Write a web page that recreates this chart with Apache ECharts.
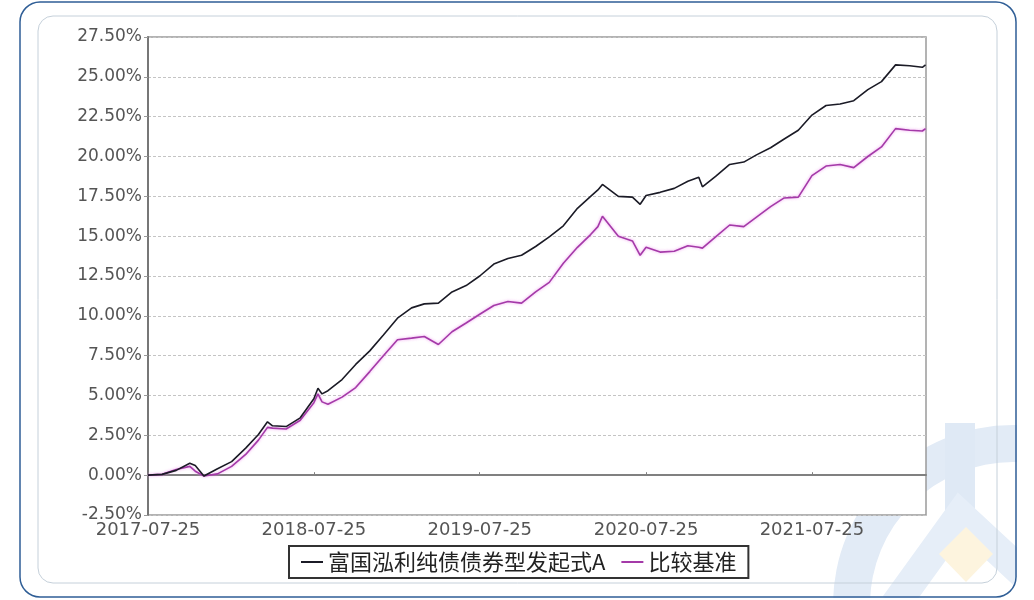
<!DOCTYPE html>
<html>
<head>
<meta charset="utf-8">
<script src="https://cdn.jsdelivr.net/npm/echarts@6/dist/echarts.min.js"></script>
<style>
html,body{margin:0;padding:0;background:#fff;}
#chart{width:1034px;height:600px;}
</style>
</head>
<body>
<div id="chart"></div>
<script>
// 日期
var dates = ['2017-07-25','2017-08-25','2017-09-25','2017-10-25','2017-11-06','2017-11-25','2017-12-25',
	'2018-01-25','2018-02-25','2018-03-25','2018-04-14','2018-04-25','2018-05-25','2018-06-25','2018-07-25',
	'2018-08-03','2018-08-12','2018-08-25','2018-09-25','2018-10-25','2018-11-25','2018-12-25',
	'2019-01-25','2019-02-25','2019-03-25','2019-04-25','2019-05-25','2019-06-25','2019-07-25',
	'2019-08-25','2019-09-25','2019-10-25','2019-11-25','2019-12-25',
	'2020-01-25','2020-02-25','2020-03-25','2020-04-10','2020-04-20','2020-05-25','2020-06-25','2020-07-12',
	'2020-07-25','2020-08-25','2020-09-25','2020-10-25','2020-11-18','2020-11-26','2020-12-25',
	'2021-01-25','2021-02-25','2021-03-25','2021-04-25','2021-05-25','2021-06-25','2021-07-25',
	'2021-08-25','2021-09-25','2021-10-25','2021-11-25','2021-12-25',
	'2022-01-25','2022-02-25','2022-03-25','2022-04-01'];
// 富国泓利纯债债券型发起式A (%)
var fundValues = [0,0.05,0.3,0.75,0.6,-0.05,0.4,
	0.85,1.7,2.55,3.35,3.1,3.05,3.6,4.8,
	5.45,5.1,5.3,6.0,6.95,7.8,8.8,
	9.85,10.5,10.75,10.8,11.5,11.9,12.5,
	13.25,13.6,13.8,14.35,14.95,
	15.65,16.75,17.5,17.9,18.25,17.5,17.45,17.0,
	17.55,17.75,18.0,18.45,18.7,18.1,18.75,
	19.5,19.65,20.1,20.55,21.1,21.65,22.6,
	23.2,23.3,23.5,24.2,24.7,
	25.75,25.7,25.6,25.75];
// 比较基准 (%)
var benchValues = [0,0.05,0.35,0.55,0.25,-0.05,0.08,
	0.55,1.3,2.2,3.0,2.95,2.9,3.45,4.55,
	5.1,4.6,4.45,4.9,5.5,6.5,7.5,
	8.5,8.6,8.7,8.2,9.0,9.55,10.1,
	10.65,10.9,10.8,11.5,12.1,
	13.3,14.3,15.1,15.6,16.25,15.0,14.7,13.8,
	14.3,14.0,14.05,14.4,14.3,14.25,14.95,
	15.7,15.6,16.2,16.85,17.4,17.45,18.8,
	19.4,19.5,19.3,20.0,20.6,
	21.75,21.65,21.6,21.75];
// x轴刻度
var tickLabels = ['2017-07-25','2018-07-25','2019-07-25','2020-07-25','2021-07-25'];

var fundName = '富国泓利纯债债券型发起式A';
var benchName = '比较基准';

function toTime(s){
	var p = s.split('-');
	return Date.UTC(+p[0], +p[1]-1, +p[2]);
}
function fmtDate(v){
	var d = new Date(v);
	var m = d.getUTCMonth()+1, day = d.getUTCDate();
	return d.getUTCFullYear()+'-'+(m<10?'0'+m:m)+'-'+(day<10?'0'+day:day);
}
var fundData = dates.map(function(d,i){ return [toTime(d), fundValues[i]]; });
var benchData = dates.map(function(d,i){ return [toTime(d), benchValues[i]]; });
var tickTimes = tickLabels.map(toTime);

var chart = echarts.init(document.getElementById('chart'));
chart.setOption({
	animation:false,
	backgroundColor:'#fff',
	graphic:[
		//水印
		{type:'sector',z:-15,shape:{cx:1013,cy:605,r0:143,r:180,startAngle:Math.PI,endAngle:Math.PI*2},style:{fill:'#e2ebf6'}},
		{type:'rect',z:-14,shape:{x:945,y:423,width:30,height:95},style:{fill:'#dfe9f5'}},
		{type:'polyline',z:-14,shape:{points:[[895,605],[960,515],[1030,580]]},style:{stroke:'#e6eef8',lineWidth:30,fill:null}},
		{type:'polygon',z:-13,shape:{points:[[966,527],[993,554],[966,582],[939,554]]},style:{fill:'#fdf4de'}},
		//遮住外框以外
		{type:'rect',z:-12,shape:{x:1017,y:0,width:20,height:600},style:{fill:'#fff'}},
		{type:'rect',z:-12,shape:{x:0,y:598,width:1034,height:4},style:{fill:'#fff'}},
		{type:'polygon',z:-12,shape:{points:[[1016,577],[1015.3,582.4],[1013.2,587.5],[1009.8,591.8],[1005.5,595.2],[1000.4,597.3],[995,598],[995,600],[1020,600],[1020,577]]},style:{fill:'#fff'}},
		//外框
		{type:'rect',z:-9,shape:{x:20,y:2,width:996,height:595,r:20},style:{fill:'transparent',stroke:'#2f5e96',lineWidth:1.5}},
		//内框
		{type:'rect',z:-10,shape:{x:38,y:16,width:959,height:567,r:15},style:{fill:'transparent',stroke:'#c5d0da',lineWidth:1}}
	],
	grid:{
		left:148,
		top:37,
		right:108,
		bottom:85,
		show:true,
		backgroundColor:'#fff',
		borderColor:'#9a9a9a',
		borderWidth:1.5
	},
	legend:{
		left:289,
		top:546,
		data:[fundName, benchName],
		icon:'rect',
		itemWidth:22,
		itemHeight:2,
		itemGap:16,
		padding:[5,12],
		borderColor:'#333',
		borderWidth:2,
		backgroundColor:'#fff',
		textStyle:{
			fontSize:22,
			color:'#222',
			fontFamily:'Noto Sans CJK SC'
		}
	},
	xAxis:{
		type:'value',
		min:toTime('2017-07-25'),
		max:toTime('2022-04-02'),
		axisLine:{lineStyle:{color:'#808080',width:2}},
		axisTick:{show:true,inside:true,length:3,customValues:tickTimes,lineStyle:{color:'#808080'}},
		splitLine:{show:false},
		axisLabel:{
			customValues:tickTimes,
			fontSize:18,
			color:'#555',
			fontFamily:'DejaVu Sans',
			margin:6,
			formatter:fmtDate
		}
	},
	yAxis:{
		type:'value',
		min:-2.5,
		max:27.5,
		interval:2.5,
		axisLine:{show:true,lineStyle:{color:'#777',width:2}},
		axisTick:{show:true,length:4,lineStyle:{color:'#999'}},
		splitLine:{show:true,lineStyle:{color:'#c4c4c4',type:[3,2],width:1}},
		axisLabel:{
			fontSize:17,
			color:'#555',
			fontFamily:'DejaVu Sans',
			margin:6,
			formatter:function(v){ return v.toFixed(2)+'%'; }
		}
	},
	series:[{
		name:benchName,
		type:'line',
		symbol:'none',
		data:benchData,
		z:3,
		lineStyle:{color:'#a43aa8',width:1.6,shadowColor:'rgba(235,130,235,0.8)',shadowBlur:3}
	},{
		name:fundName,
		type:'line',
		symbol:'none',
		data:fundData,
		z:4,
		lineStyle:{color:'#1b1b26',width:1.6}
	}],
	color:['#a43aa8','#1b1b26']
});
</script>
</body>
</html>
